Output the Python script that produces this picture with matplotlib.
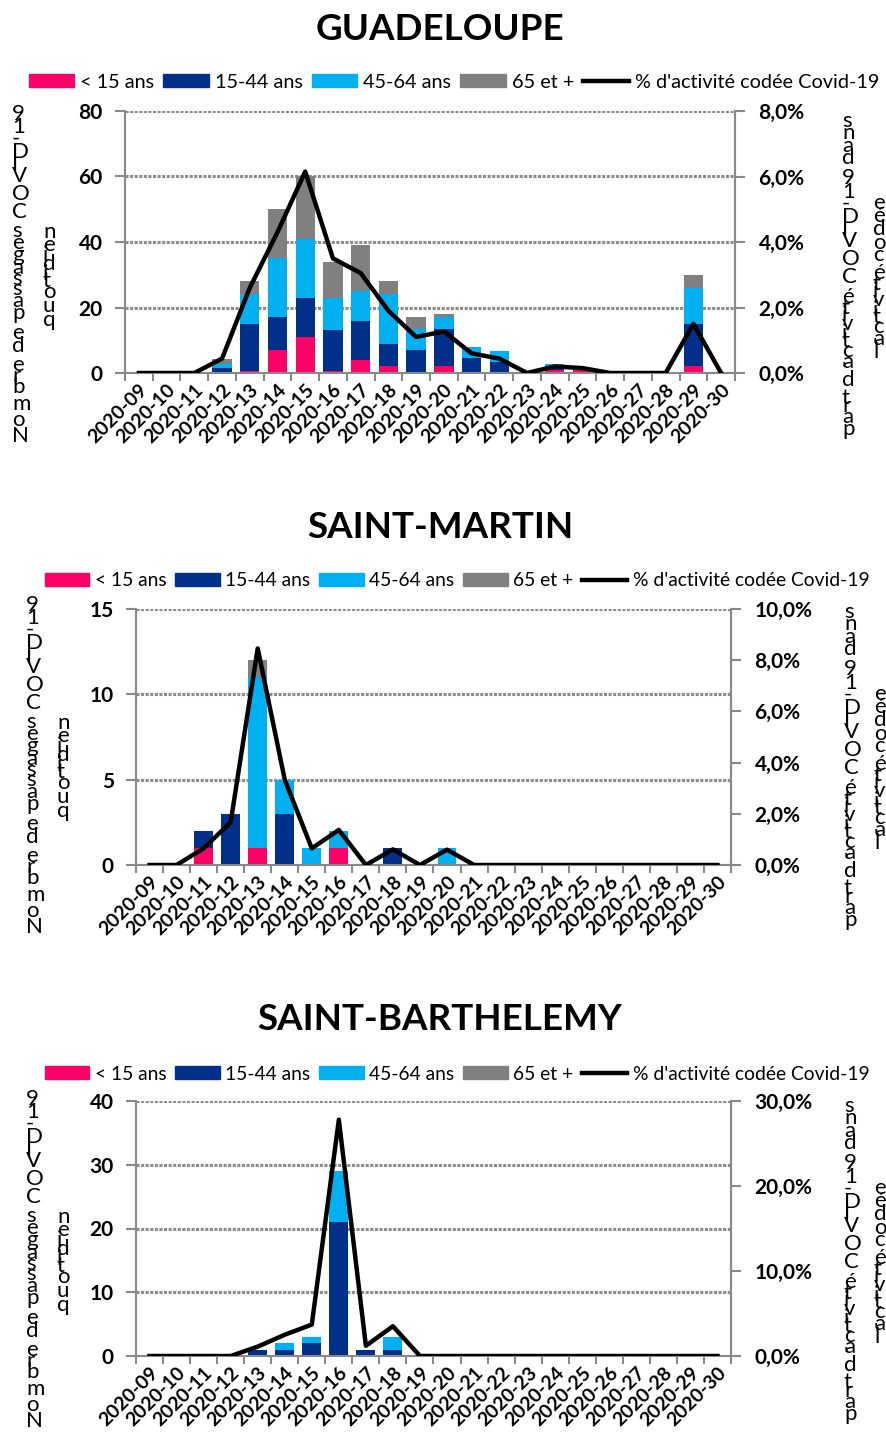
import matplotlib
matplotlib.use('Agg')
import matplotlib.pyplot as plt
import numpy as np
from matplotlib.patches import Patch
from matplotlib.lines import Line2D
from matplotlib.font_manager import FontProperties

plt.rcParams['font.family'] = ['Lato', 'DejaVu Sans']

weeks = ["2020-%02d" % w for w in range(9, 31)]
age_groups = ["< 15 ans", "15-44 ans", "45-64 ans", "65 et +"]
line_label = "% d'activité codée Covid-19"
colors = ["#FF0066", "#00308A", "#00B0F0", "#808080"]

# Guadeloupe
gua_lt15 = [0, 0, 0, 0, 0.6, 7, 11, 0.6, 4, 2, 0, 2, 0, 0, 0, 0.8, 0.8, 0, 0, 0, 2, 0]
gua_15_44 = [0, 0, 0, 1.5, 14.4, 10, 12, 12.4, 12, 7, 7, 11.5, 4.6, 3.5, 0, 1.2, 0, 0, 0, 0, 13, 0]
gua_45_64 = [0, 0, 0, 1.1, 9, 18, 18, 10, 9, 15, 6.5, 3.5, 3.3, 3.2, 0, 0.9, 0, 0, 0, 0, 11, 0]
gua_65 = [0, 0, 0, 1.8, 4, 15, 19, 11, 14, 4, 3.5, 1, 0, 0, 0, 0, 0, 0, 0, 0, 4, 0]
gua_pct = [0, 0, 0, 0.44, 2.6, 4.3, 6.15, 3.5, 3.05, 1.9, 1.1, 1.27, 0.6, 0.44, 0, 0.2, 0.15, 0, 0, 0, 1.5, 0]

# Saint-Martin
sm_lt15 = [0, 0, 1, 0, 1, 0, 0, 1, 0, 0, 0, 0, 0, 0, 0, 0, 0, 0, 0, 0, 0, 0]
sm_15_44 = [0, 0, 1, 3, 0, 3, 0, 0, 0, 1, 0, 0, 0, 0, 0, 0, 0, 0, 0, 0, 0, 0]
sm_45_64 = [0, 0, 0, 0, 10, 2, 1, 1, 0, 0, 0, 1, 0, 0, 0, 0, 0, 0, 0, 0, 0, 0]
sm_65 = [0, 0, 0, 0, 1, 0, 0, 0, 0, 0, 0, 0, 0, 0, 0, 0, 0, 0, 0, 0, 0, 0]
sm_pct = [0, 0, 0.65, 1.67, 8.46, 3.33, 0.65, 1.37, 0, 0.61, 0, 0.6, 0, 0, 0, 0, 0, 0, 0, 0, 0, 0]

# Saint-Barthelemy
sb_lt15 = [0] * 22
sb_15_44 = [0, 0, 0, 0, 1, 1, 2, 21, 1, 1, 0, 0, 0, 0, 0, 0, 0, 0, 0, 0, 0, 0]
sb_45_64 = [0, 0, 0, 0, 0, 1, 1, 8, 0, 2, 0, 0, 0, 0, 0, 0, 0, 0, 0, 0, 0, 0]
sb_65 = [0] * 22
sb_pct = [0, 0, 0, 0, 1.1, 2.5, 3.7, 27.8, 1.2, 3.5, 0, 0, 0, 0, 0, 0, 0, 0, 0, 0, 0, 0]

ylabel_left = ["Nombre de passages COVID-19", "quotidien"]
ylabel_right = ["part d'activité COVID-19 dans", "l'activité codée"]

W, H = 887, 1443
fig = plt.figure(figsize=(W / 100, H / 100), dpi=100)
grey = "#898989"
renderer = fig.canvas.get_renderer()


def stacked_label(s, x, yc, size=16, stretch=1.08):
    # upright letters piled bottom-to-top, spaced by their advance widths
    prop = FontProperties(family=['Lato', 'DejaVu Sans'], size=size)

    def width(t):
        return renderer.get_text_width_height_descent(t + '|', prop, ismath=False)[0] - \
            renderer.get_text_width_height_descent('|', prop, ismath=False)[0]

    adv = [width(s[:i]) * stretch for i in range(len(s) + 1)]
    y0 = (H - yc) - adv[-1] / 2
    for i, ch in enumerate(s):
        if ch == ' ':
            continue
        yy = y0 + (adv[i] + adv[i + 1]) / 2
        fig.text(x / W, yy / H, ch, ha='left', va='center', fontproperties=prop)


def panel(title, box, series, pct, ymax, ystep, pmax, pstep, ty, ly, lx, lsize, lab_x, lab_y):
    x0, y0, x1, y1 = box
    ax = fig.add_axes([x0 / W, 1 - y1 / H, (x1 - x0) / W, (y1 - y0) / H])
    ind = np.arange(len(weeks))
    bottom = np.zeros(len(weeks))
    for vals, c in zip(series, colors):
        ax.bar(ind, vals, 0.7, bottom=bottom, color=c, zorder=2)
        bottom += np.array(vals)
    ax.set_xlim(-0.5, len(weeks) - 0.5)
    ax.set_ylim(0, ymax)
    ax.set_yticks(np.arange(0, ymax + 0.01, ystep))
    ax.grid(axis='y', color='#8c8c8c', linestyle=(0, (1, 0.5)), linewidth=2.2, zorder=0)
    ax.set_axisbelow(True)
    ax.set_xticks(ind)
    ax.set_xticklabels(weeks, rotation=45, ha='right', va='top', rotation_mode='anchor',
                       fontsize=14, fontweight='bold')
    ax.set_xticks(np.arange(-0.5, len(weeks), 1), minor=True)
    ax.tick_params(axis='x', which='major', length=0, pad=6)
    ax.tick_params(axis='x', which='minor', length=6, color=grey, width=1.5)
    ax.tick_params(axis='y', length=7, color=grey, width=1.5, labelsize=15, pad=9)
    for t in ax.get_yticklabels():
        t.set_fontweight('bold')
    for sp in ['left', 'bottom', 'right']:
        ax.spines[sp].set_color(grey)
        ax.spines[sp].set_linewidth(1.5)
    ax.spines['top'].set_visible(False)

    ax2 = ax.twinx()
    ax2.plot(ind, pct, color='black', linewidth=3.2, zorder=3)
    ax2.set_ylim(0, pmax)
    ax2.set_yticks(np.arange(0, pmax + 0.01, pstep))
    ax2.set_yticklabels([("%.1f%%" % v).replace('.', ',') for v in np.arange(0, pmax + 0.01, pstep)],
                        fontsize=15, fontweight='bold')
    ax2.tick_params(axis='y', length=7, color=grey, width=1.5, pad=10)
    for sp in ['left', 'bottom', 'top']:
        ax2.spines[sp].set_visible(False)
    ax2.spines['right'].set_color(grey)
    ax2.spines['right'].set_linewidth(1.5)

    fig.text(440 / W, 1 - ty / H, title, ha='center', va='center', fontsize=26.5, fontweight='bold')

    handles = [Patch(color=c) for c in colors] + [Line2D([], [], color='black', linewidth=3.2)]
    fig.legend(handles, age_groups + [line_label], loc='center', bbox_to_anchor=(lx / W, 1 - ly / H),
               ncol=5, frameon=False, fontsize=lsize, handlelength=2.3, handleheight=0.65,
               handletextpad=0.3, columnspacing=0.45, borderpad=0)

    for txt, xx in zip(ylabel_left + ylabel_right, lab_x):
        stacked_label(txt, xx, lab_y)
    return ax


panel("GUADELOUPE", (125, 111, 735, 373), [gua_lt15, gua_15_44, gua_45_64, gua_65], gua_pct,
      80, 20, 8, 2, 30, 82, 454, 14.3, [12, 43, 842, 873], 276)
panel("SAINT-MARTIN", (136, 609, 731, 865), [sm_lt15, sm_15_44, sm_45_64, sm_65], sm_pct,
      15, 5, 10, 2, 528, 581, 457, 13.9, [26, 57, 844, 874], 767)
panel("SAINT-BARTHELEMY", (136, 1101, 731, 1356), [sb_lt15, sb_15_44, sb_45_64, sb_65], sb_pct,
      40, 10, 30, 10, 1020, 1074, 457, 13.9, [26, 57, 844, 874], 1261)

fig.savefig('out.png', dpi=100)
